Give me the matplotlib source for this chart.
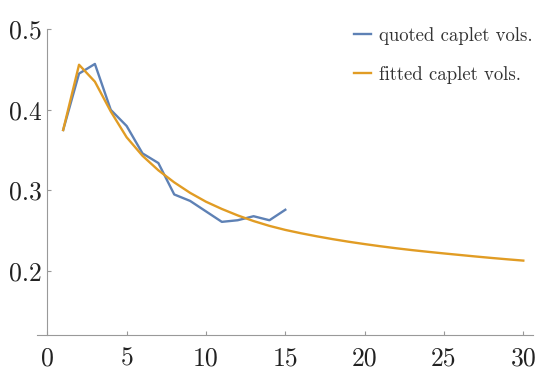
import matplotlib
matplotlib.use("Agg")
import matplotlib.pyplot as plt

# Data
quoted_x = list(range(1, 16))
quoted_vols = [0.375, 0.445, 0.457, 0.400, 0.380, 0.346, 0.334, 0.295, 0.287,
               0.274, 0.261, 0.263, 0.268, 0.263, 0.276]
fitted_x = list(range(1, 31))
fitted_vols = [0.375, 0.456, 0.435, 0.398, 0.366, 0.343, 0.325, 0.310, 0.297,
               0.286, 0.277, 0.269, 0.262, 0.256, 0.251, 0.2468, 0.2430, 0.2395,
               0.2363, 0.2334, 0.2307, 0.2282, 0.2259, 0.2238, 0.2218, 0.2199,
               0.2180, 0.2162, 0.2145, 0.2129]
xticks = [0, 5, 10, 15, 20, 25, 30]
yticks = [0.2, 0.3, 0.4, 0.5]
labels = ["quoted caplet vols.", "fitted caplet vols."]

plt.rcParams['font.family'] = ['cmr10', 'DejaVu Serif']
plt.rcParams['axes.formatter.use_mathtext'] = True

W, H = 543, 375
fig = plt.figure(figsize=(W / 100, H / 100), dpi=100)
left_px, right_px, top_px, bot_px = 37.3, 533, 29.3, 335.3
ax = fig.add_axes([left_px / W, 1 - bot_px / H, (right_px - left_px) / W, (bot_px - top_px) / H])

blue = '#5E81B5'
orange = '#E19C24'
ax.plot(quoted_x, quoted_vols, color=blue, lw=1.7, label=labels[0])
ax.plot(fitted_x, fitted_vols, color=orange, lw=1.7, label=labels[1])

x0_px, x30_px = 47.3, 523.3
px_per_unit = (x30_px - x0_px) / 30
x0 = -(x0_px - left_px) / px_per_unit
x1 = x0 + (right_px - left_px) / px_per_unit
ax.set_xlim(x0, x1)
py_per_unit = (271 - 29.3) / 0.3
ax.set_ylim(0.5 - (bot_px - 29.3) / py_per_unit, 0.5 + (29.3 - top_px) / py_per_unit)

for s in ['top', 'right']:
    ax.spines[s].set_visible(False)
ax.spines['left'].set_position(('data', 0))
ax.spines['left'].set_color('#999999')
ax.spines['bottom'].set_color('#999999')
ax.set_xticks(xticks)
ax.set_yticks(yticks)
ax.set_xticklabels([str(t) for t in xticks])
ax.set_yticklabels([f"{t:.1f}" for t in yticks])
ax.tick_params(direction='in', length=3, color='#999999', labelsize=18.5,
               labelcolor='#222222')
ax.tick_params(axis='x', pad=8)
ax.tick_params(axis='y', pad=4)
ax.patch.set_visible(False)

leg = ax.legend(loc='upper left', bbox_to_anchor=(337 / W, 1 - 10 / H),
                bbox_transform=fig.transFigure, frameon=False, fontsize=13.5,
                handlelength=0.9, handletextpad=0.45, labelspacing=1.12,
                labelcolor='#333333')
fig.savefig('out.png', dpi=100)
